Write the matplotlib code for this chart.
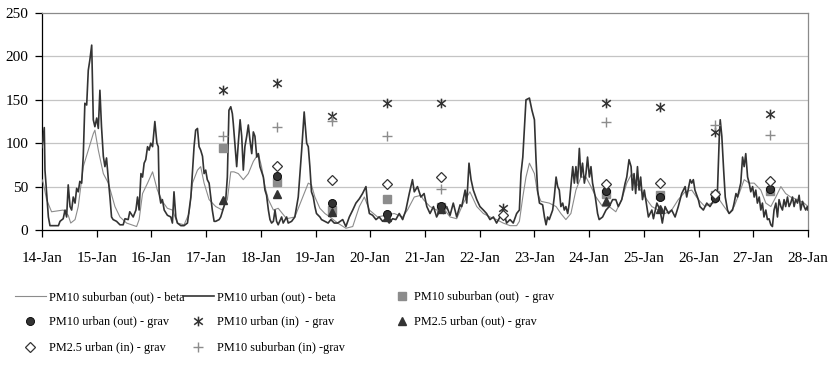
import numpy as np
import matplotlib
matplotlib.use("Agg")
import matplotlib.pyplot as plt
from matplotlib.path import Path

plt.rcParams['font.family'] = ['Liberation Serif', 'DejaVu Serif']

# ---- data -------------------------------------------------------------
day_labels = ['14-Jan', '15-Jan', '16-Jan', '17-Jan', '18-Jan', '19-Jan', '20-Jan',
              '21-Jan', '22-Jan', '23-Jan', '24-Jan', '25-Jan', '26-Jan', '27-Jan', '28-Jan']

# beta-gauge PM10, urban site (hours since 14-Jan 00:00, ug/m3)
urban_hours = [0, 1, 1.3, 2.8, 3.5, 5.5, 7.2, 7.9, 9.3, 10.1, 10.8, 11.5, 12.3, 13.0, 13.7,
               14.5, 15.2, 15.9, 16.6, 17.4, 18.1, 18.8, 19.6, 20.3, 21.0, 21.8, 22.5, 23.2,
               24.0, 24.7, 25.4, 26.1, 26.9, 27.6, 28.3, 29.1, 29.8, 30.5, 31.2, 32.7, 34.2,
               35.6, 36.4, 37.8, 38.5, 40.0, 41.2, 41.9, 42.6, 43.4, 44.1, 44.8, 45.5, 46.3,
               47.0, 47.7, 48.5, 49.5, 50.4, 51.0, 51.4, 52.1, 52.8, 53.6, 55.0, 56.5, 57.2,
               57.9, 58.7, 59.4, 60.9, 62.3, 63.8, 65.3, 66.7, 67.4, 68.2, 68.9, 69.6, 70.4,
               71.1, 71.8, 72.5, 73.3, 74.0, 74.7, 75.5, 76.2, 77.7, 78.4, 79.8, 80.6, 81.3,
               82.0, 82.8, 83.5, 83.9, 84.7, 85.4, 86.1, 86.9, 87.6, 88.3, 89.0, 89.8, 90.5,
               91.2, 92.0, 92.7, 93.4, 94.2, 94.9, 95.6, 97.1, 97.8, 98.5, 99.3, 100.0, 100.7,
               101.5, 102.2, 102.9, 103.6, 105.1, 105.8, 107.3, 108.0, 109.5, 110.9, 112.4,
               113.9, 115.0, 116.1, 116.8, 117.5, 118.2, 119.0, 119.7, 120.4, 121.9, 122.6,
               124.1, 125.5, 126.7, 128.2, 129.7, 131.9, 133.3, 134.8, 136.3, 137.7, 139.2,
               140.6, 142.1, 142.8, 143.6, 145.0, 146.5, 147.9, 149.4, 150.9, 152.3, 153.8,
               155.2, 156.7, 158.2, 159.6, 161.1, 162.5, 163.3, 164.7, 166.2, 167.6, 168.8,
               170.2, 171.7, 173.1, 174.6, 176.1, 177.5, 179.0, 180.4, 181.9, 183.4, 184.1,
               185.6, 186.3, 187.3, 188.2, 189.2, 190.7, 192.1, 193.6, 195.0, 196.5, 198.0,
               199.4, 200.9, 202.3, 203.8, 205.3, 206.7, 208.2, 209.4, 210.1, 210.9, 212.3,
               213.8, 214.9, 216.0, 216.7, 217.4, 218.2, 219.6, 220.4, 221.1, 221.8, 222.5,
               224.0, 224.7, 225.5, 226.2, 226.9, 227.6, 228.4, 229.1, 229.8, 230.6, 231.3,
               232.8, 233.5, 234.2, 234.9, 235.7, 236.4, 237.1, 237.9, 238.6, 239.3, 240.1,
               240.8, 241.5, 242.7, 243.7, 244.4, 245.9, 247.4, 248.8, 250.3, 251.7, 252.8,
               254.3, 255.8, 256.5, 257.5, 258.4, 259.0, 259.7, 260.4, 261.2, 261.9, 262.6,
               263.4, 264.2, 265.3, 266.0, 267.5, 268.2, 269.7, 271.1, 272.1, 273.3, 274.8,
               276.2, 277.7, 279.1, 280.6, 282.1, 282.8, 284.3, 285.0, 285.7, 286.4, 287.9,
               288.6, 290.1, 291.6, 293.0, 294.9, 295.6, 296.3, 297.1, 297.5, 298.2, 299.0,
               299.7, 300.7, 301.4, 302.9, 303.6, 304.4, 305.1, 306.5, 307.3, 308.0, 308.7,
               309.5, 310.2, 310.9, 311.7, 312.4, 313.1, 313.8, 314.6, 315.3, 316.0, 316.7,
               317.5, 318.2, 318.9, 319.7, 320.4, 321.1, 321.9, 322.6, 323.3, 324.1, 324.8,
               325.5, 326.2, 327.0, 327.7, 328.4, 329.2, 329.9, 330.6, 331.4, 332.1, 332.8,
               333.6, 334.3, 335.0, 335.7, 336.0]
urban_pm10 = [95, 118, 69, 15, 5, 5, 5, 10, 13, 23, 15, 52, 27, 23, 38,
              31, 48, 44, 56, 54, 85, 146, 144, 184, 196, 213, 127, 119,
              129, 117, 161, 119, 85, 73, 83, 58, 38, 15, 12, 10, 6,
              6, 13, 12, 21, 15, 23, 38, 23, 65, 61, 77, 81, 96,
              92, 100, 96, 125, 100, 96, 42, 31, 35, 23, 17, 15, 8,
              44, 15, 8, 5, 5, 8, 38, 96, 115, 117, 96, 92, 85,
              65, 69, 58, 54, 38, 23, 10, 10, 12, 15, 27, 35, 61,
              138, 142, 134, 123, 96, 73, 100, 127, 108, 69, 96, 108, 121,
              104, 88, 113, 108, 84, 88, 73, 61, 46, 40, 23, 12, 8,
              10, 23, 10, 6, 15, 8, 15, 8, 10, 15, 38,
              92, 136, 100, 96, 73, 44, 38, 27, 19, 15, 12,
              10, 8, 12, 8, 8, 12, 4, 15, 23, 31, 36,
              42, 50, 31, 19, 17, 12, 15, 10, 13, 8, 13,
              12, 19, 12, 23, 42, 58, 44, 50, 38, 42, 27,
              19, 27, 15, 23, 19, 27, 17, 31, 15, 29, 27,
              46, 31, 77, 58, 46, 35, 27, 23, 19, 12, 15,
              8, 15, 23, 8, 12, 8, 19, 23, 65, 84, 150,
              152, 138, 127, 81, 46, 31, 29, 15, 6, 15, 12,
              23, 38, 61, 50, 46, 27, 31, 23, 27, 19, 31,
              73, 54, 73, 54, 94, 61, 77, 54, 65, 84, 61,
              73, 54, 38, 19, 12, 15, 23, 27, 35, 35, 27,
              35, 54, 61, 81, 73, 46, 65, 42, 73, 46, 61,
              35, 46, 27, 15, 23, 13, 31, 23, 8, 27, 19,
              23, 15, 27, 42, 50, 38, 58, 54, 58, 46, 35,
              27, 23, 31, 27, 35, 38, 46, 108, 127, 108, 69,
              38, 23, 19, 23, 31, 42, 38, 54, 84, 73, 88,
              61, 54, 44, 50, 38, 46, 31, 38, 23, 31, 15,
              23, 12, 13, 6, 4, 23, 31, 15, 35, 27, 23,
              35, 27, 38, 27, 31, 38, 27, 35, 31, 40, 23,
              33, 27, 23, 27, 23]

# beta-gauge PM10, suburban site
suburban_hours = [0, 0.6, 2.0, 4.2, 9.3, 11.5, 12.6, 14.5, 15.9, 18.1, 20.3, 22.5, 23.2,
                  24.7, 26.9, 29.1, 32.0, 34.2, 37.1, 41.5, 42.6, 44.1, 46.3, 48.5, 50.6,
                  52.8, 55.0, 57.2, 59.4, 62.3, 64.5, 66.0, 68.2, 69.6, 71.1, 73.3, 76.2,
                  79.1, 81.3, 82.8, 84.2, 86.1, 88.3, 90.5, 92.7, 94.9, 96.3, 97.8, 99.3,
                  101.5, 103.6, 107.3, 110.9, 113.9, 116.8, 118.2, 119.7, 121.9, 124.1,
                  126.3, 129.7, 133.3, 136.3, 139.2, 141.4, 143.6, 147.2, 150.9, 154.5,
                  158.2, 160.3, 163.3, 166.2, 167.3, 170.2, 173.1, 176.1, 179.0, 181.9,
                  184.8, 187.7, 190.7, 193.6, 196.5, 199.4, 202.3, 205.3, 208.2, 209.4,
                  210.9, 212.3, 213.8, 216.0, 217.4, 218.9, 222.5, 225.5, 227.6, 229.8,
                  232.0, 234.2, 236.4, 238.6, 240.8, 243.0, 245.9, 248.8, 251.7, 254.3,
                  256.5, 258.7, 261.6, 264.5, 267.5, 270.4, 273.3, 276.2, 279.1, 282.1,
                  285.0, 287.9, 290.8, 293.7, 295.6, 297.1, 299.2, 301.4, 303.6, 305.8,
                  308.0, 310.2, 312.4, 315.3, 317.5, 319.7, 321.9, 324.1, 326.2, 328.4,
                  331.4, 334.3, 336.0]
suburban_pm10 = [58, 54, 35, 21, 23, 17, 8, 12, 27, 73, 92, 111, 115,
                 92, 65, 54, 27, 15, 8, 4, 12, 42, 54, 67, 46,
                 33, 25, 23, 8, 6, 19, 54, 69, 73, 54, 35, 27,
                 23, 35, 67, 67, 65, 58, 65, 79, 88, 73, 50, 35,
                 23, 25, 13, 15, 35, 54, 52, 38, 25, 19,
                 15, 8, 2, 4, 27, 38, 23, 15, 17, 19,
                 15, 23, 38, 40, 35, 27, 23, 25, 15, 13,
                 31, 44, 27, 19, 15, 12, 8, 5, 5, 10,
                 38, 61, 77, 65, 42, 33, 31, 27, 19, 12,
                 19, 46, 61, 61, 50, 38, 27, 27, 21, 35,
                 54, 65, 50, 38, 27, 23, 19, 23, 35, 44,
                 46, 35, 27, 31, 31, 35, 27, 19, 27, 42,
                 58, 54, 54, 46, 31, 27, 38, 50, 42, 38,
                 35, 31, 27]

# gravimetric daily samples (days after 14-Jan 00:00)
nan = np.nan
grav_days = [3.3, 4.3, 5.3, 6.3, 7.3, 8.43, 10.3, 11.3, 12.3, 13.3]
pm10_suburban_out_grav = [94, 55, 23, 36, 27, nan, 42, 40, 40, 45]
pm10_urban_out_grav = [nan, 62, 31, 19, 28, nan, 45, 38, 37, 47]
pm10_urban_in_grav = [161, 169, 131, 146, 146, 25, 146, 142, 113, 134]
pm25_urban_out_grav = [35, 41, 21, 15, 24, nan, 33, 24, nan, nan]
pm25_urban_in_grav = [nan, 74, 58, 53, 61, 17, 53, 54, 41, 57]
pm10_suburban_in_grav = [108, 119, 126, 108, 47, nan, 124, nan, 121, 109]

# ---- styling ----------------------------------------------------------
DARK = '#333333'
GREY = '#8c8c8c'
star = Path([(0, -0.9), (0, 0.9), (-0.8, -0.6), (0.8, 0.6), (-0.8, 0.6), (0.8, -0.6)],
            [Path.MOVETO, Path.LINETO] * 3)

W, H = 834, 373
fig = plt.figure(figsize=(W / 100, H / 100), dpi=100)
ax = fig.add_axes([42 / W, 1 - 230 / H, 766 / W, 217 / H])

urban_days = np.asarray(urban_hours) / 24.0
suburban_days = np.asarray(suburban_hours) / 24.0

l_sub, = ax.plot(suburban_days, suburban_pm10, color=GREY, lw=0.8, zorder=3,
                 label='PM10 suburban (out) - beta')
l_urb, = ax.plot(urban_days, urban_pm10, color=DARK, lw=1.2, zorder=4,
                 label='PM10 urban (out) - beta')
m_sq, = ax.plot(grav_days, pm10_suburban_out_grav, ls='none', marker='s', ms=5.2,
                color=GREY, mec=GREY, zorder=5, label='PM10 suburban (out)  - grav')
m_ci, = ax.plot(grav_days, pm10_urban_out_grav, ls='none', marker='o', ms=5.8,
                color=DARK, mec='black', mew=0.6, zorder=6, label='PM10 urban (out) - grav')
m_st, = ax.plot(grav_days, pm10_urban_in_grav, ls='none', marker=star, ms=7,
                mec=DARK, mfc='none', mew=1.1, zorder=7, label='PM10 urban (in)  - grav')
m_tr, = ax.plot(grav_days, pm25_urban_out_grav, ls='none', marker='^', ms=6.2,
                color=DARK, mec=DARK, zorder=6, label='PM2.5 urban (out) - grav')
m_di, = ax.plot(grav_days, pm25_urban_in_grav, ls='none', marker='D', ms=4.8,
                mfc='white', mec=DARK, mew=0.9, zorder=7, label='PM2.5 urban (in) - grav')
m_pl, = ax.plot(grav_days, pm10_suburban_in_grav, ls='none', marker='+', ms=7,
                color=GREY, mew=1.0, zorder=7, label='PM10 suburban (in) -grav')

# ---- axes -------------------------------------------------------------
ax.set_xlim(0, len(day_labels) - 1)
ax.set_ylim(0, 250)
ax.set_xticks(np.arange(len(day_labels)))
ax.set_xticklabels(day_labels)
ax.set_yticks(np.arange(0, 251, 50))
ax.tick_params(axis='both', direction='out', length=5, width=0.9, colors='black',
               labelsize=11)
ax.tick_params(axis='x', pad=11)
ax.tick_params(axis='y', pad=5)
for y in (50, 100, 150, 200):
    ax.axhline(y, color='#c4c4c4', lw=0.9, zorder=1)
for side in ('left', 'bottom'):
    ax.spines[side].set_color('black')
    ax.spines[side].set_linewidth(0.9)
for side in ('top', 'right'):
    ax.spines[side].set_color('#8a8a8a')
    ax.spines[side].set_linewidth(0.9)

# ---- legend: three columns, filled row by row -------------------------
leg_font = 8.8
columns = [
    ([l_sub, m_ci, m_di], 15, 2.5, 0.3),
    ([l_urb, m_st, m_pl], 183, 2.5, 0.3),
    ([m_sq, m_tr], 396, 1.0, 0.5),
]
for handles, x0, hl, tp in columns:
    fig.legend(handles=handles, labels=[h.get_label() for h in handles],
               loc='upper left', bbox_to_anchor=(x0 / W, 1 - 291 / H),
               bbox_transform=fig.transFigure, frameon=False, borderpad=0,
               borderaxespad=0, handlelength=hl, handletextpad=tp,
               labelspacing=1.1, fontsize=leg_font, numpoints=1)

fig.savefig('out.png', dpi=100)
